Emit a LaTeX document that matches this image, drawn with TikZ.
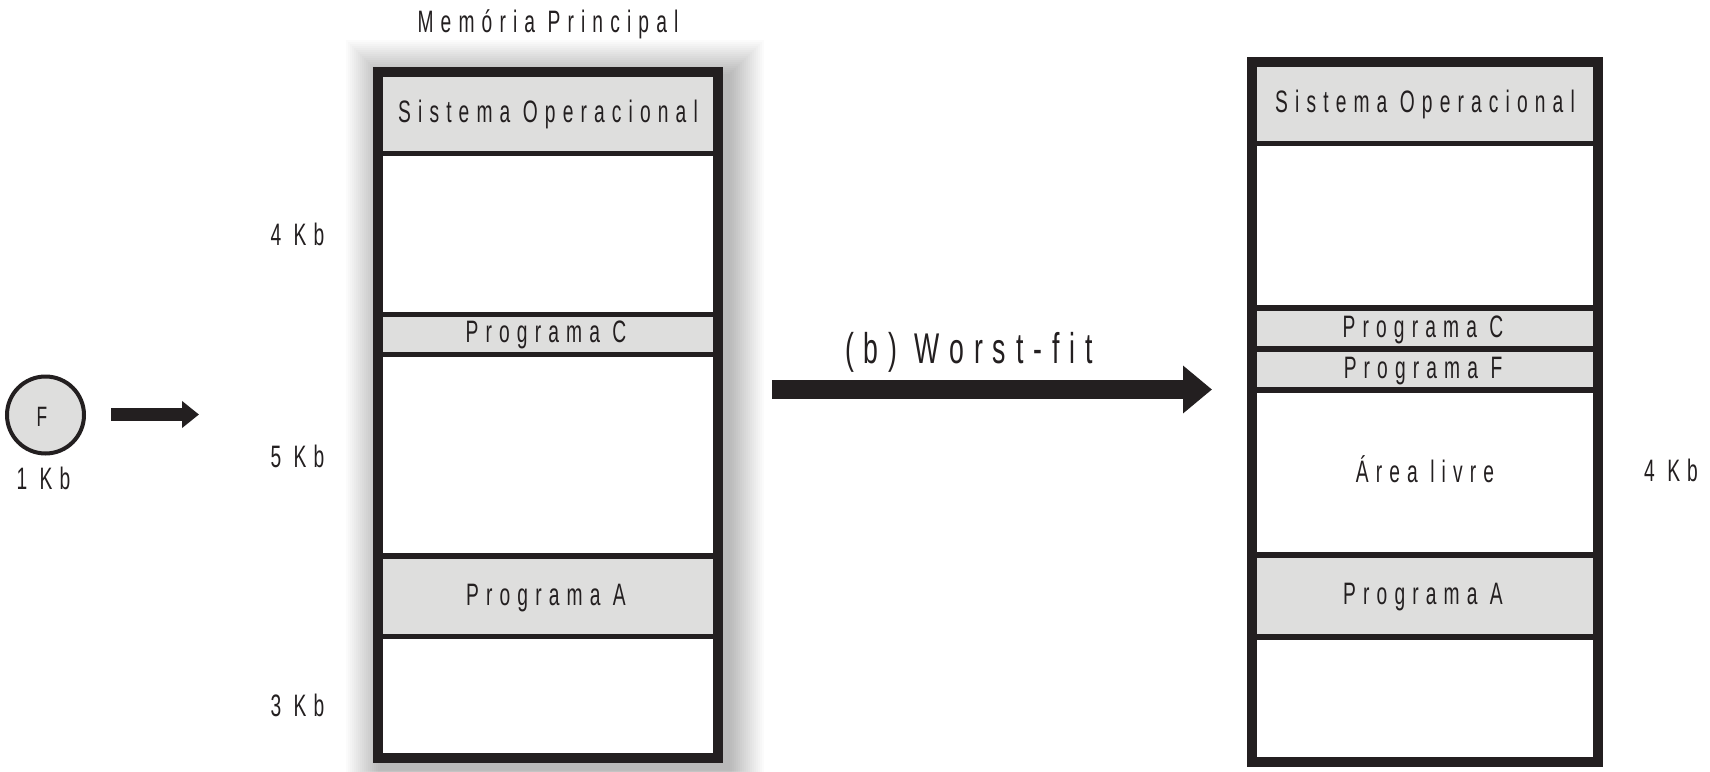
\documentclass[tikz,border=0pt]{standalone}
\usepackage{fontspec}
\newfontfamily\condfont[FakeStretch=0.62,LetterSpace=23]{Liberation Sans}
\usetikzlibrary{arrows.meta}
\definecolor{ink}{HTML}{231F20}
\definecolor{memgray}{HTML}{DEDEDD}
\begin{document}
\begin{tikzpicture}[x=1pt,y=-1pt,
  lbl/.style={font=\condfont\fontsize{31}{36}\selectfont, text=ink, inner sep=0pt, anchor=base},
  biglbl/.style={font=\condfont\fontsize{43}{50}\selectfont, text=ink, inner sep=0pt, anchor=base},
  smalllbl/.style={font=\condfont\fontsize{28}{32}\selectfont, text=ink, inner sep=0pt, anchor=base},
  frame/.style={draw=ink, line width=10pt},
  divider/.style={draw=ink, line width=5.5pt},
  slot/.style={fill=memgray},
  blockarrow/.style={draw=ink, line width=#1}
]
\useasboundingbox[fill=white] (0,0) rectangle (1710,771);

% soft shadow of main memory
\foreach \k in {0,...,17}{
  \fill[black, fill opacity=0.016] ({380-\k*2},{74-\k*2}) rectangle ({730+\k*2},{770+\k*2});
}

% ---------- left memory ----------
\fill[white] (378,72) rectangle (718,758);
\fill[slot] (378,72) rectangle (718,153.5);
\fill[slot] (378,314.5) rectangle (718,354.5);
\fill[slot] (378,556) rectangle (718,636.5);
\foreach \yy in {153.5,314.5,354.5,556,636.5}{
  \draw[divider] (378,\yy) -- (718,\yy);
}
\draw[frame] (378,72) rectangle (718,758);

\node[lbl] (memtitle) at (548,32) {Memória Principal};
\node[lbl] (so1) at (548,122) {Sistema Operacional};
\node[lbl] (pc1) at (546,342) {Programa C};
\node[lbl] (pa1) at (546,605) {Programa A};
\node[lbl] (kb4) at (297.5,245) {4 Kb};
\node[lbl] (kb5) at (297.5,467) {5 Kb};
\node[lbl] (kb3) at (297.5,716) {3 Kb};

% ---------- program F ----------
\node[circle, draw=ink, line width=4pt, fill=memgray, minimum size=77pt, inner sep=0pt] (fcirc) at (45.5,415) {};
\node[smalllbl] (ftext) at (42,426) {F};
\node[lbl] (kb1) at (43.5,489) {1 Kb};
\coordinate (sa) at (111,414.5);
\coordinate (sb) at (199,414.5);
\draw[blockarrow=13pt, -{Triangle[length=17pt,width=26pt]}] (sa) -- (sb);

% ---------- worst-fit arrow ----------
\node[biglbl] (wf) at (969,363) {(b) Worst-fit};
\coordinate (wa) at (772,389.5);
\coordinate (wb) at (1212,389.5);
\draw[blockarrow=19pt, -{Triangle[length=29pt,width=46pt]}] (wa) -- (wb);

% ---------- right memory ----------
\fill[white] (1252,61.5) rectangle (1598,761.5);
\fill[slot] (1252,61.5) rectangle (1598,143.5);
\fill[slot] (1252,308) rectangle (1598,390);
\fill[slot] (1252,555) rectangle (1598,637);
\foreach \yy in {143.5,308,349,390,555,637}{
  \draw[divider] (1252,\yy) -- (1598,\yy);
}
\draw[frame] (1252,61.5) rectangle (1598,761.5);

\node[lbl] (so2) at (1425,112) {Sistema Operacional};
\node[lbl] (pc2) at (1423,337) {Programa C};
\node[lbl] (pf2) at (1423,378) {Programa F};
\node[lbl] (free2) at (1425,482) {Área livre};
\node[lbl] (pa2) at (1423,604) {Programa A};
\node[lbl] (kb4r) at (1671,481) {4 Kb};
\end{tikzpicture}
\end{document}
